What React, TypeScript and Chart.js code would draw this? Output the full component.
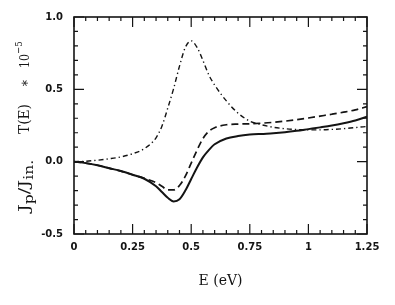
import React, { useEffect, useRef } from "react";
import { Chart, registerables } from "chart.js";

Chart.register(...registerables);

// ---- data ----
const energy = [0, 0.05, 0.1, 0.15, 0.2, 0.25, 0.3, 0.35, 0.375, 0.4, 0.425, 0.45, 0.475, 0.5, 0.525, 0.55, 0.575, 0.6, 0.65, 0.7, 0.75, 0.8, 0.85, 0.9, 0.95, 1.0, 1.05, 1.1, 1.15, 1.2, 1.25];
const solidSeries = [0, -0.01, -0.025, -0.045, -0.065, -0.09, -0.118, -0.17, -0.21, -0.25, -0.275, -0.26, -0.2, -0.12, -0.04, 0.03, 0.08, 0.12, 0.16, 0.177, 0.187, 0.192, 0.196, 0.203, 0.213, 0.225, 0.237, 0.25, 0.266, 0.285, 0.31];
const dashedSeries = [0, -0.01, -0.025, -0.045, -0.065, -0.09, -0.115, -0.145, -0.17, -0.195, -0.195, -0.165, -0.1, -0.01, 0.08, 0.16, 0.21, 0.235, 0.255, 0.26, 0.262, 0.266, 0.272, 0.28, 0.29, 0.302, 0.315, 0.328, 0.342, 0.358, 0.38];
const dashDotSeries = [0, 0.003, 0.01, 0.02, 0.033, 0.055, 0.09, 0.165, 0.245, 0.37, 0.505, 0.66, 0.79, 0.835, 0.79, 0.7, 0.6, 0.53, 0.42, 0.335, 0.28, 0.255, 0.238, 0.228, 0.222, 0.22, 0.22, 0.223, 0.228, 0.236, 0.243];

const xTickValues = [0, 0.25, 0.5, 0.75, 1, 1.25];
const xTickLabels = ["0", "0.25", "0.5", "0.75", "1", "1.25"];
const yTickValues = [-0.5, 0, 0.5, 1.0];
const yTickLabels = ["-0.5", "0.0", "0.5", "1.0"];
const xMinorStep = 0.05;
const yMinorStep = 0.1;

const xTitle = "E (eV)";

const INK = "#141414";
const SERIF = '"DejaVu Serif"';

const toPoints = (ys: number[]) => energy.map((x, i) => ({ x, y: ys[i] }));

type Part = { t: string; size: number; base: number };
type Group = { start: number; end: number; parts: Part[] };

const framePlugin = {
  id: "frameTicks",
  afterDraw(chart: any) {
    const { ctx, chartArea } = chart;
    const xs = chart.scales.x;
    const ys = chart.scales.y;
    const { left, right, top, bottom } = chartArea;
    ctx.save();
    ctx.strokeStyle = INK;
    ctx.lineWidth = 1.6;
    ctx.strokeRect(left, top, right - left, bottom - top);

    ctx.lineWidth = 1.2;
    const major = 10;
    const minor = 4;
    const nx = Math.round((xs.max - xs.min) / xMinorStep);
    for (let i = 0; i <= nx; i++) {
      const v = xs.min + i * xMinorStep;
      const px = xs.getPixelForValue(v);
      const len = i % 5 === 0 ? major : minor;
      ctx.beginPath();
      ctx.moveTo(px, bottom);
      ctx.lineTo(px, bottom - len);
      ctx.moveTo(px, top);
      ctx.lineTo(px, top + len);
      ctx.stroke();
    }
    const ny = Math.round((ys.max - ys.min) / yMinorStep);
    for (let i = 0; i <= ny; i++) {
      const v = ys.min + i * yMinorStep;
      const py = ys.getPixelForValue(v);
      const len = i % 5 === 0 ? major : minor;
      ctx.beginPath();
      ctx.moveTo(left, py);
      ctx.lineTo(left + len, py);
      ctx.moveTo(right, py);
      ctx.lineTo(right - len, py);
      ctx.stroke();
    }

    // x title
    ctx.fillStyle = INK;
    ctx.font = `14px ${SERIF}`;
    ctx.textAlign = "center";
    ctx.textBaseline = "middle";
    ctx.fillText(xTitle, (left + right) / 2, 281);

    // y title (rotated, with sub/superscripts)
    const groups: Group[] = [
      {
        start: 212,
        end: 148,
        parts: [
          { t: "J", size: 15, base: 29 },
          { t: "p", size: 12, base: 33 },
          { t: "/J", size: 15, base: 29 },
          { t: "in.", size: 12, base: 33 },
        ],
      },
      { start: 134, end: 104, parts: [{ t: "T(E)", size: 14, base: 29 }] },
      { start: 87, end: 79, parts: [{ t: "\u2217", size: 14, base: 29 }] },
      {
        start: 68,
        end: 47,
        parts: [
          { t: "10", size: 13, base: 29 },
          { t: "\u22125", size: 10, base: 22 },
        ],
      },
    ];
    ctx.textAlign = "left";
    ctx.textBaseline = "alphabetic";
    for (const g of groups) {
      let total = 0;
      const widths = g.parts.map((p) => {
        ctx.font = `${p.size}px ${SERIF}`;
        const w = ctx.measureText(p.t).width;
        total += w;
        return w;
      });
      const stretch = Math.max(0.85, Math.min(1.3, (g.start - g.end) / total));
      let pos = g.start;
      g.parts.forEach((p, i) => {
        ctx.save();
        ctx.font = `${p.size}px ${SERIF}`;
        ctx.translate(p.base, pos);
        ctx.rotate(-Math.PI / 2);
        ctx.scale(stretch, 1);
        ctx.fillText(p.t, 0, 0);
        ctx.restore();
        pos -= widths[i] * stretch;
      });
    }
    ctx.restore();
  },
};

export default function App() {
  const canvasRef = useRef<HTMLCanvasElement | null>(null);

  useEffect(() => {
    document.body.style.margin = "0";
    const canvas = canvasRef.current;
    if (!canvas) return;
    const tickFont = { family: '"DejaVu Sans"', size: 10, weight: "bold" as const };
    const chart = new Chart(canvas, {
      type: "line",
      data: {
        datasets: [
          {
            label: "solid",
            data: toPoints(solidSeries),
            borderColor: INK,
            borderWidth: 2,
            pointRadius: 0,
            cubicInterpolationMode: "monotone",
            fill: false,
          },
          {
            label: "dashed",
            data: toPoints(dashedSeries),
            borderColor: INK,
            borderWidth: 1.7,
            borderDash: [7, 4],
            pointRadius: 0,
            cubicInterpolationMode: "monotone",
            fill: false,
          },
          {
            label: "dash-dot",
            data: toPoints(dashDotSeries),
            borderColor: INK,
            borderWidth: 1.4,
            borderDash: [5, 3, 1.3, 3],
            pointRadius: 0,
            cubicInterpolationMode: "monotone",
            fill: false,
          },
        ],
      },
      options: {
        animation: false,
        responsive: false,
        maintainAspectRatio: false,
        devicePixelRatio: 1,
        layout: { padding: { left: 0, right: 28, top: 14, bottom: 0 } },
        plugins: {
          legend: { display: false },
          tooltip: { enabled: false },
          title: { display: false },
        },
        scales: {
          x: {
            type: "linear",
            min: 0,
            max: 1.25,
            grid: { display: false, drawTicks: false },
            border: { display: false },
            afterBuildTicks: (scale: any) => {
              scale.ticks = xTickValues.map((v) => ({ value: v }));
            },
            afterFit: (scale: any) => {
              scale.height = 305 - 234;
            },
            ticks: {
              padding: 7,
              color: INK,
              font: tickFont,
              maxRotation: 0,
              autoSkip: false,
              callback: (v: any) => {
                const i = xTickValues.findIndex((t) => Math.abs(t - v) < 1e-9);
                return i >= 0 ? xTickLabels[i] : "";
              },
            },
          },
          y: {
            type: "linear",
            min: -0.5,
            max: 1.0,
            grid: { display: false, drawTicks: false },
            border: { display: false },
            afterBuildTicks: (scale: any) => {
              scale.ticks = yTickValues.map((v) => ({ value: v }));
            },
            afterFit: (scale: any) => {
              scale.width = 74;
            },
            ticks: {
              padding: 11,
              color: INK,
              font: tickFont,
              autoSkip: false,
              callback: (v: any) => {
                const i = yTickValues.findIndex((t) => Math.abs(t - v) < 1e-9);
                return i >= 0 ? yTickLabels[i] : "";
              },
            },
          },
        },
      },
      plugins: [framePlugin],
    });
    return () => chart.destroy();
  }, []);

  return (
    <div style={{ position: "absolute", left: 0, top: 0, width: 395, height: 305, background: "#fff" }}>
      <canvas ref={canvasRef} width={395} height={305} style={{ width: 395, height: 305 }} />
    </div>
  );
}
